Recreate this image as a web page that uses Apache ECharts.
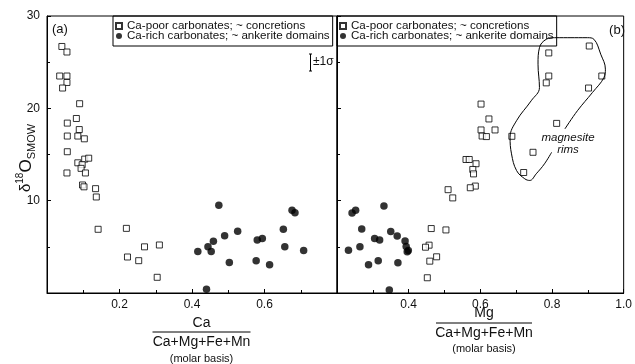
<!DOCTYPE html>
<html>
<head>
<meta charset="utf-8">
<script src="https://cdn.jsdelivr.net/npm/echarts@6/dist/echarts.min.js"></script>
<style>
  html, body { margin: 0; padding: 0; background: #fff; }
  #main { width: 635px; height: 364px; }
</style>
</head>
<body>
<div id="main"></div>
<script>
// legend names
var POOR = 'Ca-poor carbonates; ~ concretions';
var RICH = 'Ca-rich carbonates; ~ ankerite domains';

// panel (a): Ca/(Ca+Mg+Fe+Mn) vs d18O
var poorCa = [
    [0.041, 26.7], [0.055, 26.1], [0.035, 23.5], [0.055, 23.5], [0.055, 22.8], [0.043, 22.2],
    [0.090, 20.5], [0.081, 18.9], [0.056, 18.4], [0.089, 17.7], [0.056, 17.0], [0.085, 17.0],
    [0.103, 16.7], [0.056, 15.3], [0.104, 14.5], [0.115, 14.6], [0.085, 14.1], [0.097, 13.9],
    [0.094, 13.5], [0.055, 13.0], [0.106, 13.0], [0.098, 11.7], [0.102, 11.5], [0.134, 11.3],
    [0.136, 10.4], [0.141, 6.9], [0.219, 7.0], [0.269, 5.0], [0.310, 5.2], [0.222, 3.9],
    [0.253, 3.5], [0.304, 1.7]
];
var richCa = [
    [0.474, 9.5], [0.459, 5.6], [0.444, 5.0], [0.416, 4.5], [0.453, 4.5], [0.440, 0.4],
    [0.490, 6.2], [0.526, 6.7], [0.503, 3.3], [0.577, 3.5], [0.580, 5.75], [0.594, 5.9],
    [0.614, 3.05], [0.652, 6.9], [0.656, 5.0], [0.676, 8.95], [0.684, 8.7], [0.708, 4.6]
];

// panel (b): Mg/(Ca+Mg+Fe+Mn) vs d18O
var poorMg = [
    [0.904, 26.75], [0.791, 26.0], [0.791, 23.5], [0.939, 23.5], [0.784, 22.76], [0.902, 22.2],
    [0.602, 20.46], [0.624, 18.85], [0.813, 18.37], [0.602, 17.66], [0.641, 17.66], [0.605, 17.0],
    [0.617, 16.94], [0.688, 16.97], [0.747, 15.24], [0.560, 14.46], [0.569, 14.46], [0.588, 14.0],
    [0.579, 13.38], [0.721, 13.05], [0.581, 12.9], [0.586, 11.58], [0.572, 11.4], [0.510, 11.19],
    [0.523, 10.3], [0.463, 6.98], [0.504, 6.83], [0.457, 5.18], [0.447, 4.96], [0.478, 3.92],
    [0.459, 3.45], [0.452, 1.65]
];
var richMg = [
    [0.232, 4.64], [0.242, 8.66], [0.252, 8.95], [0.264, 5.0], [0.269, 6.94], [0.288, 3.05],
    [0.305, 5.9], [0.319, 5.75], [0.315, 3.48], [0.331, 9.42], [0.350, 6.66], [0.368, 6.18],
    [0.370, 3.27], [0.390, 5.64], [0.393, 5.04], [0.396, 4.46], [0.399, 4.6], [0.346, 0.32]
];

// outline around the magnesite rims (open where the label sits)
var rimOutline = [
    [0.836, 17.77], [0.871, 19.74], [0.913, 21.72], [0.945, 23.34], [0.949, 24.24], [0.936, 25.86],
    [0.917, 27.48], [0.899, 27.65], [0.807, 27.65], [0.784, 27.48], [0.765, 26.57], [0.761, 24.78],
    [0.765, 22.25], [0.742, 20.82], [0.701, 18.66], [0.683, 16.86], [0.687, 15.07], [0.701, 13.27],
    [0.724, 12.37], [0.738, 12.19], [0.756, 12.91], [0.779, 13.99], [0.799, 15.24]
];

var yTicks = [0, 10, 20, 30];
var FONT = '"Liberation Sans", Arial, sans-serif';
var INK = '#111';

var myChart = echarts.init(document.getElementById('main'));

function xAxisCfg(grid, min, max, fmt) {
    return {
        gridIndex: grid, type: 'value', min: min, max: max, interval: 0.2,
        axisLine: { lineStyle: { color: '#000', width: 1 } },
        axisTick: { inside: true, length: 4, lineStyle: { color: '#000' } },
        minorTick: { show: true, splitNumber: 2, length: 3, lineStyle: { color: '#000' } },
        splitLine: { show: false },
        axisLabel: { color: INK, fontSize: 12, fontFamily: FONT, margin: 6, formatter: fmt }
    };
}

function yAxisCfg(grid, labels) {
    return {
        gridIndex: grid, type: 'value', min: yTicks[0], max: yTicks[yTicks.length - 1], interval: 10,
        axisLine: { lineStyle: { color: '#000', width: 1 } },
        axisTick: { inside: true, length: 4, lineStyle: { color: '#000' } },
        minorTick: { show: true, splitNumber: 2, length: 3, lineStyle: { color: '#000' } },
        splitLine: { show: false },
        axisLabel: {
            show: labels, color: INK, fontSize: 12, fontFamily: FONT, margin: 7,
            formatter: function (v) { return v === 0 ? '' : String(v); }
        }
    };
}

function legendCfg(left) {
    return {
        left: left, top: 16, orient: 'vertical',
        selectedMode: false,
        borderColor: '#000', borderWidth: 1, borderRadius: 0,
        padding: [4, 3, 4, 2], itemGap: -2,
        itemWidth: 6, itemHeight: 6,
        textStyle: { color: INK, fontSize: 11.6, fontFamily: FONT },
        data: [
            { name: POOR, icon: 'rect' },
            { name: RICH, icon: 'circle' }
        ]
    };
}

function txt(x, y, s, size, align, extra) {
    return {
        type: 'text', x: x, y: y,
        style: Object.assign({
            text: s, fill: INK, font: size + 'px ' + FONT,
            align: align || 'center', verticalAlign: 'middle',
            textAlign: align || 'center', textVerticalAlign: 'middle'
        }, extra || {})
    };
}

function ln(x1, y1, x2, y2) {
    return { type: 'line', shape: { x1: x1, y1: y1, x2: x2, y2: y2 }, style: { stroke: '#000', lineWidth: 1 } };
}

// rotated y title: δ18O with SMOW subscript
var yTitle = {
    type: 'text', x: 26, y: 158, rotation: Math.PI / 2,
    style: {
        text: '{d|δ}{s|18}{o|O}{b|SMOW}',
        align: 'center', verticalAlign: 'middle',
        rich: {
            d: { fontSize: 15, fontFamily: FONT, fill: INK, lineHeight: 22, verticalAlign: 'middle' },
            s: { fontSize: 10, fontFamily: FONT, fill: INK, lineHeight: 22, verticalAlign: 'top' },
            o: { fontSize: 17, fontFamily: FONT, fill: INK, lineHeight: 22, verticalAlign: 'middle' },
            b: { fontSize: 11, fontFamily: FONT, fill: INK, lineHeight: 22, verticalAlign: 'bottom' }
        }
    }
};

option = {
    animation: false,
    backgroundColor: '#fff',
    grid: [
        { left: 47, top: 16, width: 290, height: 277, show: true, borderColor: '#000', borderWidth: 1 },
        { left: 337, top: 16, width: 289, height: 277, show: true, borderColor: '#000', borderWidth: 1 }
    ],
    xAxis: [
        xAxisCfg(0, 0, 0.8, function (v) { return (v < 0.1 || v > 0.75) ? '' : v.toFixed(1); }),
        xAxisCfg(1, 0.2, 1.0, function (v) { return v < 0.3 ? '' : v.toFixed(1); })
    ],
    yAxis: [yAxisCfg(0, true), yAxisCfg(1, false)],
    legend: [legendCfg(113), legendCfg(337)],
    series: [
        {
            name: POOR, type: 'scatter', xAxisIndex: 0, yAxisIndex: 0, data: poorCa,
            symbol: 'rect', symbolSize: 6,
            itemStyle: { color: '#fff', borderColor: '#000', borderWidth: 1 }
        },
        {
            name: RICH, type: 'scatter', xAxisIndex: 0, yAxisIndex: 0, data: richCa,
            symbol: 'circle', symbolSize: 7.5,
            itemStyle: { color: '#000' }
        },
        {
            name: POOR, type: 'scatter', xAxisIndex: 1, yAxisIndex: 1, data: poorMg,
            symbol: 'rect', symbolSize: 6,
            itemStyle: { color: '#fff', borderColor: '#000', borderWidth: 1 }
        },
        {
            name: RICH, type: 'scatter', xAxisIndex: 1, yAxisIndex: 1, data: richMg,
            symbol: 'circle', symbolSize: 7.5,
            itemStyle: { color: '#000' }
        },
        {
            name: 'magnesite rims', type: 'line', xAxisIndex: 1, yAxisIndex: 1, data: rimOutline,
            smooth: 0.4, symbol: 'none', silent: true,
            lineStyle: { color: '#000', width: 1 }
        }
    ],
    graphic: [
        yTitle,
        txt(52, 29, '(a)', 13, 'left'),
        txt(625, 30, '(b)', 13, 'right'),
        // ±1σ bar
        ln(310.5, 54, 310.5, 71), ln(309, 54, 312, 54), ln(309, 71, 312, 71),
        txt(313, 62, '±1σ', 12, 'left'),
        // rim label
        txt(568, 138, 'magnesite', 11.5, 'center', { font: 'italic 11.5px ' + FONT }),
        txt(568, 149.5, 'rims', 11.5, 'center', { font: 'italic 11.5px ' + FONT }),
        // x titles, panel (a)
        txt(201.5, 323, 'Ca', 14),
        ln(152.5, 332, 250.5, 332),
        txt(201.5, 342.5, 'Ca+Mg+Fe+Mn', 14),
        txt(201.5, 358.5, '(molar basis)', 11),
        // x titles, panel (b)
        txt(484, 313, 'Mg', 14),
        ln(436, 323, 532, 323),
        txt(484, 333.5, 'Ca+Mg+Fe+Mn', 14),
        txt(484, 349, '(molar basis)', 11)
    ]
};

myChart.setOption(option);
</script>
</body>
</html>
